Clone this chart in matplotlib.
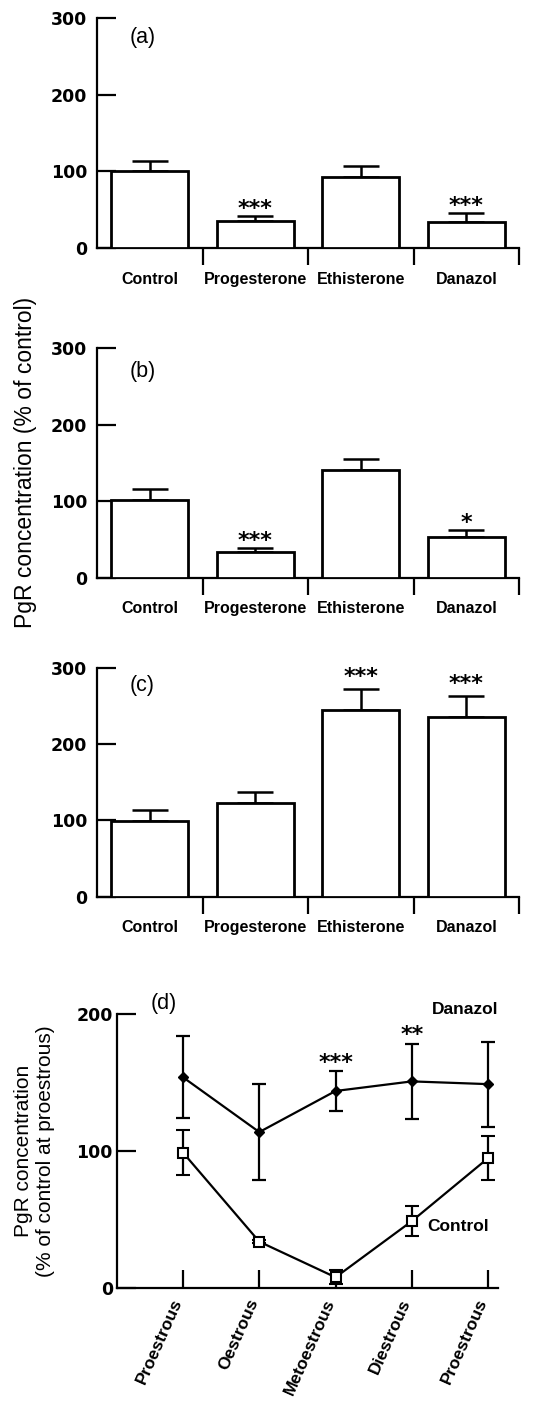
import matplotlib
matplotlib.use("Agg")
import matplotlib.pyplot as plt
import matplotlib.transforms as mtransforms
import numpy as np

plt.rcParams['font.family'] = ['Liberation Sans', 'DejaVu Sans']

# bar panels (a)-(c): mean and SEM as % of control
treatments = ['Control', 'Progesterone', 'Ethisterone', 'Danazol']
panel_names = ['(a)', '(b)', '(c)']
mean_a = [100, 35, 92, 34]
sem_a = [14, 7, 15, 11]
stars_a = ['', '***', '', '***']
mean_b = [102, 33, 141, 53]
sem_b = [13.5, 5.5, 14.5, 10]
stars_b = ['', '***', '', '*']
mean_c = [99, 123, 244, 235]
sem_c = [15, 14, 28, 28.5]
stars_c = ['', '', '***', '***']

# panel (d): oestrous cycle
stages = ['Proestrous', 'Oestrous', 'Metoestrous', 'Diestrous', 'Proestrous']
danazol_d = [154, 114, 144, 151, 149]
danazol_err = [30, 35, 14.5, 27.5, 31]
control_d = [99, 34, 8, 49, 95]
control_err = [16.5, 1, 5, 11, 16]
stars_d = ['', '', '***', '**', '']

fig = plt.figure(figsize=(5.56, 14.05), dpi=100)

rects = [[0.1745, 0.8235, 0.759, 0.1637],
         [0.1745, 0.5888, 0.759, 0.1633],
         [0.1745, 0.3618, 0.759, 0.1630]]
label_y = [0.913, 0.898, 0.924]
star_off = [17, 17, 23]
panels = [(mean_a, sem_a, stars_a), (mean_b, sem_b, stars_b), (mean_c, sem_c, stars_c)]

tick_font = dict(fontweight='bold', fontsize=12.5, family='DejaVu Sans')

for i, (means, sems, stars) in enumerate(panels):
    ax = fig.add_axes(rects[i])
    x = np.arange(len(treatments))
    ax.bar(x, means, width=0.73, facecolor='white', edgecolor='black',
           linewidth=2, zorder=3)
    ax.errorbar(x, means, yerr=[np.zeros(len(sems)), sems], fmt='none',
                ecolor='black', elinewidth=1.8, capsize=13, capthick=1.8, zorder=2)
    trans = mtransforms.offset_copy(ax.transData, fig=fig, y=-12, units='dots')
    for xi, m, s, st in zip(x, means, sems, stars):
        if st:
            ax.text(xi, m + s + star_off[i], st, ha='center', va='baseline',
                    fontsize=16, fontweight='bold', family='DejaVu Sans',
                    transform=trans)
    ax.set_xlim(-0.5, 3.5)
    ax.set_ylim(0, 300)
    ax.set_yticks([0, 100, 200, 300])
    ax.set_yticklabels(['0', '100', '200', '300'], **tick_font)
    ax.set_xticks(x)
    ax.set_xticklabels(treatments, fontweight='bold', fontsize=11.5)
    ax.set_xticks(x + 0.5, minor=True)
    ax.tick_params(axis='x', which='major', length=0, pad=17)
    ax.tick_params(axis='x', which='minor', direction='out', length=12, width=1.6)
    ax.tick_params(axis='y', direction='in', length=14, width=1.6, pad=7)
    for side in ['top', 'right']:
        ax.spines[side].set_visible(False)
    for side in ['left', 'bottom']:
        ax.spines[side].set_linewidth(1.6)
    ax.text(0.078, label_y[i], panel_names[i], transform=ax.transAxes,
            ha='left', va='center', fontsize=15.5)

fig.text(0.045, 0.671, 'PgR concentration (% of control)', rotation=90,
         ha='center', va='center', fontsize=16.5)

# panel (d)
ax = fig.add_axes([0.2104, 0.0831, 0.6853, 0.195])
xd = np.arange(len(stages))
ax.errorbar(xd, danazol_d, yerr=danazol_err, color='black', lw=1.6,
            marker='D', ms=5, mfc='black', mec='black',
            elinewidth=1.6, capsize=5, capthick=1.6, zorder=3)
ax.errorbar(xd, control_d, yerr=control_err, color='black', lw=1.6,
            marker='s', ms=7, mfc='white', mec='black', mew=1.5,
            elinewidth=1.6, capsize=5, capthick=1.6, zorder=4)
trans = mtransforms.offset_copy(ax.transData, fig=fig, y=-12, units='dots')
for xi, m, s, st in zip(xd, danazol_d, danazol_err, stars_d):
    if st:
        ax.text(xi, m + s + 10.5, st, ha='center', va='baseline', fontsize=16,
                fontweight='bold', family='DejaVu Sans', transform=trans)
ax.set_xlim(-0.866, 4.13)
ax.set_ylim(0, 200)
ax.set_yticks([0, 100, 200])
ax.set_yticklabels(['0', '100', '200'], **tick_font)
ax.set_xticks(xd)
ax.set_xticklabels([])
# rotated stage labels, nudged left of their ticks as in the original
lab_trans = ax.get_xaxis_transform() + mtransforms.ScaledTranslation(
    -0.12, -0.083, fig.dpi_scale_trans)
for xi, st in zip(xd, stages):
    ax.text(xi, 0, st, transform=lab_trans, rotation=66, ha='right', va='top',
            rotation_mode='anchor', fontweight='bold', fontsize=12.5)
ax.tick_params(axis='x', direction='in', length=13, width=1.6)
ax.tick_params(axis='y', direction='in', length=14, width=1.6, pad=3)
for side in ['top', 'right']:
    ax.spines[side].set_visible(False)
for side in ['left', 'bottom']:
    ax.spines[side].set_linewidth(1.6)
ax.text(0.089, 1.041, '(d)', transform=ax.transAxes, ha='left', va='center',
        fontsize=15.5)
ax.text(1.0, 1.016, 'Danazol', transform=ax.transAxes, ha='right', va='center',
        fontsize=12.5, fontweight='bold')
ax.text(3.2, 45, 'Control', ha='left', va='center', fontsize=12.5,
        fontweight='bold')

fig.text(0.062, 0.1808, 'PgR concentration\n(% of control at proestrous)',
         rotation=90, ha='center', va='center', multialignment='center',
         linespacing=1.2, fontsize=15)

fig.savefig('out.png', dpi=100)
